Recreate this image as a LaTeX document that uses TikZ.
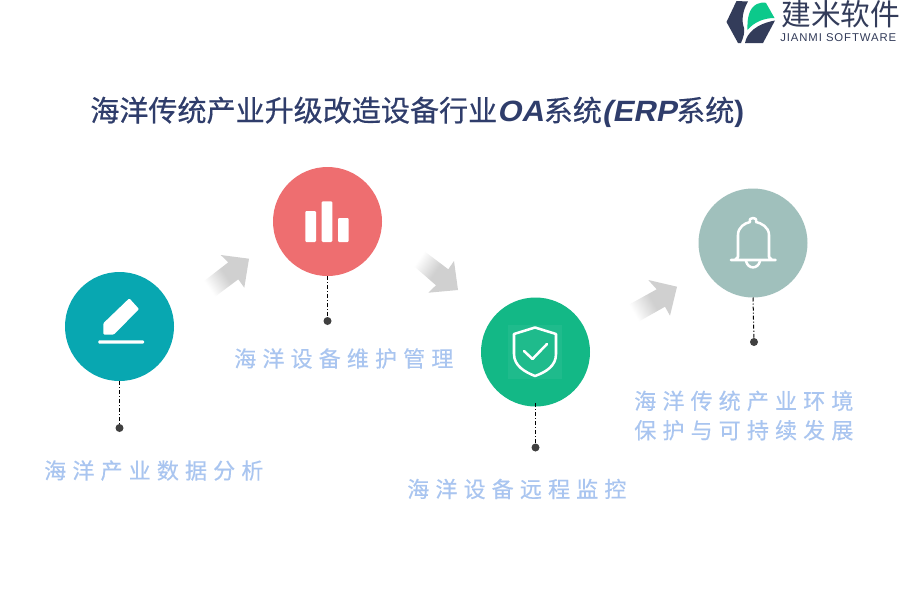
\documentclass[tikz,border=0pt]{standalone}
\usepackage{fontspec}
\setmainfont{Liberation Sans}
\newfontfamily\cjk{Noto Sans CJK SC}
\newfontfamily\cjkspaced[LetterSpace=28,FakeBold=0.4]{Noto Sans CJK SC}
\newfontfamily\latinbi[BoldFont=Liberation Sans Bold,ItalicFont=Liberation Sans Italic]{Liberation Sans}
\usetikzlibrary{calc}
\definecolor{teal1}{HTML}{08A7B1}
\definecolor{red1}{HTML}{EE6E70}
\definecolor{green1}{HTML}{13B886}
\definecolor{sage1}{HTML}{A0C0BC}
\definecolor{lab}{HTML}{A9C5F0}
\definecolor{titlec}{HTML}{2F3D6B}
\definecolor{logod}{HTML}{333C5A}
\definecolor{logog}{HTML}{0CC98B}
\definecolor{arrowg}{HTML}{D0D0D0}
\definecolor{dotc}{HTML}{404040}
\pgfdeclarehorizontalshading{arrowfade}{100bp}{color(0bp)=(white); color(26bp)=(white); color(50bp)=(arrowg); color(100bp)=(arrowg)}
\tikzset{
 x=0.75pt,y=-0.75pt,
 disc/.style={circle,minimum size=81.75pt,inner sep=0pt,outer sep=0pt},
 tick/.style={draw=black,line width=0.75pt,dash pattern=on 3pt off 1.5pt on 0.8pt off 1.5pt},
 enddot/.style={circle,fill=dotc,minimum size=6pt,inner sep=0pt},
 lbl/.style={text=lab,anchor=west,inner sep=0pt,font=\cjkspaced\fontsize{16.5pt}{20pt}\selectfont,align=left},
 icon/.style={draw=white,line width=1.9pt,line join=round,line cap=round},
 fadearrow/.style={shading=arrowfade}
}
\newcommand{\ttlatin}[1]{{\latinbi\bfseries\fontsize{22pt}{26pt}\selectfont\addfontfeature{FakeSlant=0.2,FakeStretch=1.06}#1}}
\begin{document}
\begin{tikzpicture}
\useasboundingbox (0,0) rectangle (900,600);
\fill[white] (0,0) rectangle (900,600);
% title
\node[anchor=west,inner sep=0pt,text=titlec] (title) at (90,112) {\cjk\fontsize{21.8pt}{26pt}\selectfont\addfontfeature{FakeBold=0.5}海洋传统产业升级改造设备行业\ttlatin{OA}系统\ttlatin{(ERP}系统{\latinbi\bfseries\fontsize{22pt}{26pt}\selectfont)}};
% logo
\fill[logod] (736.5,1) -- (748,1.5) .. controls (743,10) and (741,20) .. (744,28) .. controls (745,33) and (743,38) .. (741,43) -- (738,43) -- (726.5,22) -- cycle;
\fill[logog] (747.5,30) .. controls (747,18) and (749,8) .. (757,4) .. controls (760,2.5) and (764,2) .. (766,3) -- (774.5,18) .. controls (764,18) and (754,22) .. (747.5,30) -- cycle;
\fill[logod] (745,43) .. controls (747,33) and (756,24) .. (775,20.5) -- (763,43) -- cycle;
\node[anchor=west,inner sep=0pt,text=logod] (lg1) at (781,14) {\cjk\fontsize{22.3pt}{24pt}\selectfont 建米软件};
\node[anchor=west,inner sep=0pt,text=logod] (lg2) at (780,38) {\addfontfeature{LetterSpace=8}\fontsize{8.5pt}{10pt}\selectfont JIANMI SOFTWARE};
% arrows
\path[fadearrow,shading angle=35] (249,258.7) -- (244.3,287.7) -- (238.3,279.3) -- (215,296.7) -- (203.3,281.7) -- (228.3,262.3) -- (220.7,255) -- cycle;
\path[fadearrow,shading angle=-35] (458,290) -- (428.3,292.7) -- (436,285.3) -- (412.7,265) -- (424,251) -- (448.3,269.3) -- (454,261) -- cycle;
\path[fadearrow,shading angle=30] (677,286.7) -- (670,315.7) -- (665,306.7) -- (636.7,322.7) -- (628.3,305) -- (656.7,289.3) -- (648.3,280) -- cycle;
% discs
\node[disc,fill=teal1] (c1) at (119.5,326.5) {};
\node[disc,fill=red1] (c2) at (327.5,221.5) {};
\node[disc,fill=green1] (c3) at (535.5,352) {};
\node[disc,fill=sage1] (c4) at (753,243) {};
% connectors
\node[enddot] (d1) at (119.5,428) {};
\node[enddot] (d2) at (327.5,321) {};
\node[enddot] (d3) at (535.5,447.5) {};
\node[enddot] (d4) at (754,342) {};
\draw[tick] (c1.south) -- (d1);
\draw[tick] (c2.south) -- (d2);
\draw[tick,shorten <=-2.5pt] (c3.south) -- (d3);
\draw[tick] (c4.south) -- (d4);
% labels
\node[lbl] (t1) at (44,470.5) {海洋产业数据分析};
\node[lbl] (t2) at (234,358.5) {海洋设备维护管理};
\node[lbl] (t3) at (407,489) {海洋设备远程监控};
\node[lbl] (t4) at (634,415.5) {海洋传统产业环境\\[2pt]保护与可持续发展};
% pencil
\fill[white,rounded corners=0.8pt] (129.3,298.3) -- (139,309) -- (114,334.5) -- (103.3,334.5) -- (103.3,323.3) -- cycle;
\fill[white,rounded corners=0.8pt] (98.3,340.3) rectangle (144,343.7);
% bars
\fill[white,rounded corners=0.8pt] (305.3,211) rectangle (316,242);
\fill[white,rounded corners=0.8pt] (321.7,201.3) rectangle (332.3,242);
\fill[white,rounded corners=0.8pt] (338,218) rectangle (348.7,242);
% shield
\fill[white,opacity=0.05] (508,325) rectangle (562,379);
\draw[icon] (535,327.5) -- (514,334) -- (514,354) .. controls (514,366) and (525,372) .. (535,376) .. controls (546,372) and (556,366) .. (556,354) -- (556,334) -- cycle;
\draw[icon] (524,351) -- (532.5,359) -- (547,344);
% bell
\draw[icon] (731,260) -- (775.5,260) (735,260) -- (738,257) -- (738,235) .. controls (738,227) and (745,223) .. (750,222) .. controls (749,219) and (751,218) .. (753,218) .. controls (755,218) and (757,219) .. (756,222) .. controls (761,223) and (769,227) .. (769,235) -- (769,257) -- (772,260);
\draw[icon] (746,261) .. controls (748,269.5) and (758,269.5) .. (760,261);
\end{tikzpicture}
\end{document}
